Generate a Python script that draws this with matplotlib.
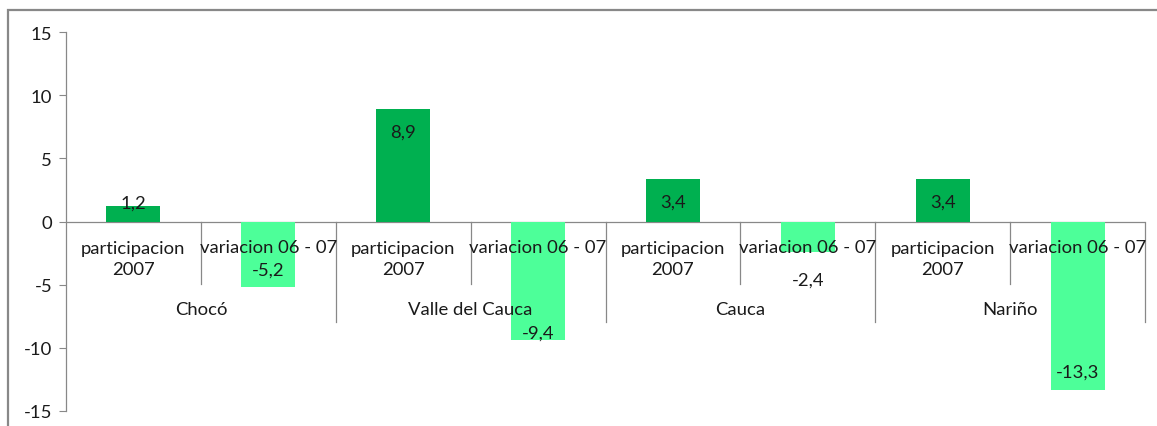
import matplotlib.pyplot as plt
from matplotlib.patches import Rectangle

# valores por departamento
departamentos = ['Chocó', 'Valle del Cauca', 'Cauca', 'Nariño']
subcategorias = ['participacion\n2007', 'variacion 06 - 07']
valores = [1.2, -5.2, 8.9, -9.4, 3.4, -2.4, 3.4, -13.3]
etiquetas = ['1,2', '-5,2', '8,9', '-9,4', '3,4', '-2,4', '3,4', '-13,3']

# desplazamiento vertical de cada etiqueta respecto al extremo de la barra (px, hacia arriba)
desplaz_etiqueta = [4, 18, -23, 8, -23, -28, -23, 18]

verde_oscuro = '#00B050'
verde_claro = '#4DFF99'
gris = '#888888'

plt.rcParams['font.family'] = ['Lato', 'DejaVu Sans']
TAM = 13.3

fig = plt.figure(figsize=(11.57, 4.27), dpi=100)
ax = fig.add_axes([66 / 1157, 15 / 427, 1079 / 1157, 379 / 427])

# marco exterior del grafico
fig.patches.append(Rectangle((8 / 1157, -0.2), 1.5, (427 - 11) / 427 + 0.2,
                             transform=fig.transFigure, fill=False,
                             edgecolor=gris, linewidth=1.6))

n = len(valores)
x = list(range(n))
colores = [verde_oscuro if i % 2 == 0 else verde_claro for i in x]
ax.bar(x, valores, width=0.4, color=colores, zorder=2)

for xi, v, txt, d in zip(x, valores, etiquetas, desplaz_etiqueta):
    ax.annotate(txt, xy=(xi, v), xytext=(0, d * 0.72),
                textcoords='offset points', ha='center', va='center',
                fontsize=TAM, color='#1a1a1a', zorder=4)

ax.set_xlim(-0.5, n - 0.5)
ax.set_ylim(-15, 15)
ax.set_yticks([-15, -10, -5, 0, 5, 10, 15])
ax.set_yticklabels(['-15', '-10', '-5', '0', '5', '10', '15'])
ax.tick_params(axis='y', length=5, width=0.8, color=gris, pad=5,
               labelsize=TAM, labelcolor='#1a1a1a')
ax.set_xticks([])

for lado in ['top', 'right', 'bottom']:
    ax.spines[lado].set_visible(False)
ax.spines['left'].set_color(gris)
ax.spines['left'].set_linewidth(0.9)

ax.axhline(0, color=gris, linewidth=0.9, zorder=1)

# etiquetas del eje de categorias en dos niveles
px = 12.63  # px por unidad
for i in x:
    sub = subcategorias[i % 2]
    y_txt = -37 / px if i % 2 == 0 else -25 / px
    ax.text(i, y_txt, sub, ha='center', va='center', fontsize=TAM,
            color='#1a1a1a', linespacing=1.4, zorder=3)
for g, dep in enumerate(departamentos):
    ax.text(2 * g + 0.5, -87 / px, dep, ha='center', va='center',
            fontsize=TAM, color='#1a1a1a', zorder=3)

# separadores verticales
for i in range(1, n + 1):
    fondo = -100 / px if i % 2 == 0 else -62 / px
    ax.plot([i - 0.5, i - 0.5], [0, fondo], color=gris, linewidth=0.9,
            zorder=1, clip_on=False)

fig.savefig('out.png', dpi=100)
